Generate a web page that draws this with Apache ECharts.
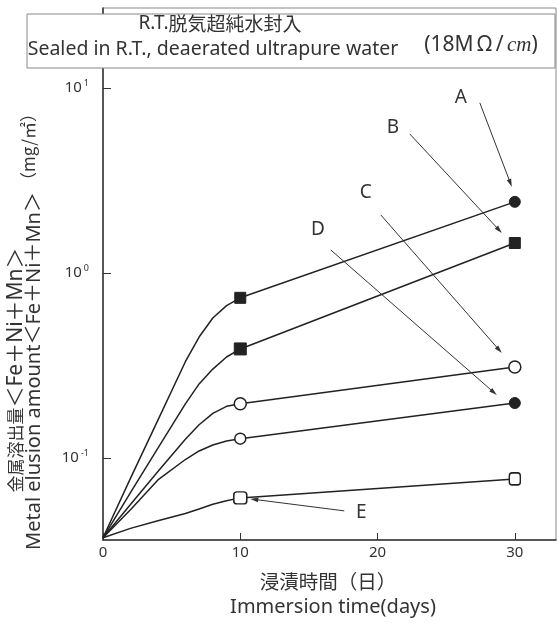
<!DOCTYPE html>
<html><head><meta charset="utf-8">
<script src="https://cdn.jsdelivr.net/npm/echarts@6/dist/echarts.min.js"></script>
<style>html,body{margin:0;padding:0;background:#fff}#c{width:558px;height:623px}</style>
</head><body><div id="c"></div>
<script>
// ---- data ----
const days    = [0, 2, 4, 6, 7, 8, 9, 10, 30];
const seriesA = [0.037, 0.0775, 0.160, 0.331, 0.450, 0.570, 0.665, 0.733, 2.42];
const seriesB = [0.037, 0.065, 0.113, 0.196, 0.251, 0.302, 0.351, 0.388, 1.45];
const seriesC = [0.037, 0.056, 0.0845, 0.126, 0.151, 0.174, 0.190, 0.196, 0.31];
const seriesD = [0.037, 0.0525, 0.076, 0.098, 0.109, 0.1175, 0.1235, 0.127, 0.198];
const seriesE = [0.037, 0.0416, 0.0457, 0.0501, 0.053, 0.0562, 0.0586, 0.0608, 0.077];
const seriesNames = ['A', 'B', 'C', 'D', 'E'];
const xTicks = [0, 10, 20, 30];
const yTicks = [0.1, 1, 10];

// ---- styling ----
const INK = '#222';
const LAT = "'Noto Sans', 'Noto Sans CJK JP', sans-serif";
const CJK = "'Noto Sans CJK JP', sans-serif";
const allSeries = [seriesA, seriesB, seriesC, seriesD, seriesE];
// marker look at the day-10 point and the day-30 point
const markerStyle = {
  A: [{s: 'rect', z: 11, f: true}, {s: 'circle', z: 11, f: true}],
  B: [{s: 'rect', z: 12, f: true}, {s: 'rect', z: 11, f: true}],
  C: [{s: 'circle', z: 12, f: false}, {s: 'circle', z: 12, f: false}],
  D: [{s: 'circle', z: 11, f: false}, {s: 'circle', z: 11, f: true}],
  E: [{s: 'roundRect', z: [13, 12], f: false}, {s: 'roundRect', z: [11, 12], f: false}]
};
const markIdx = [days.indexOf(10), days.indexOf(30)];

const series = seriesNames.map((name, k) => ({
  name, type: 'line', smooth: false,
  lineStyle: {color: INK, width: 1.5, join: 'round'},
  showSymbol: true, z: 3,
  data: days.map((d, i) => {
    const m = markIdx.indexOf(i);
    if (m < 0) return {value: [d, allSeries[k][i]], symbol: 'none'};
    const st = markerStyle[name][m];
    return {value: [d, allSeries[k][i]], symbol: st.s, symbolSize: st.z,
      itemStyle: st.f ? {color: INK, borderColor: INK, borderWidth: 1}
                      : {color: '#fff', borderColor: INK, borderWidth: 1.5}};
  })
}));

const chart = echarts.init(document.getElementById('c'), null, {renderer: 'canvas'});
chart.setOption({
  animation: false,
  backgroundColor: '#fff',
  grid: {left: 103, right: 2, top: 8, bottom: 83, show: true, borderColor: '#888', borderWidth: 1},
  xAxis: {
    type: 'value', min: 0, max: 33, interval: 10,
    axisLine: {lineStyle: {color: '#333', width: 1.5}},
    axisTick: {inside: true, length: 7, lineStyle: {color: '#333'}, customValues: xTicks},
    axisLabel: {customValues: xTicks, color: '#333', fontFamily: LAT, fontSize: 15, margin: 5},
    splitLine: {show: false}
  },
  yAxis: {
    type: 'log', logBase: 10, min: 0.036, max: 27,
    axisLine: {show: true, lineStyle: {color: '#333', width: 1.5}},
    axisTick: {inside: true, length: 8, lineStyle: {color: '#333'}, customValues: yTicks},
    axisLabel: {
      customValues: yTicks, margin: 14, color: '#333', fontFamily: LAT,
      formatter: v => '{b|10}{s|' + Math.round(Math.log10(v)) + '}',
      rich: {b: {fontSize: 15, fontFamily: LAT, color: '#333'},
             s: {fontSize: 9, fontFamily: LAT, color: '#333', padding: [0, 0, 9, 2]}}
    },
    splitLine: {show: false}
  },
  series
});

// ---- annotations (labels + arrows), anchored to the data markers ----
const notes = [
  {n: 'A', idx: 8, lab: [-54, -104], from: [-35, -99], to: [-3, -15]},
  {n: 'B', idx: 8, lab: [-122, -115], from: [-105, -109], to: [-13, -10]},
  {n: 'C', idx: 8, lab: [-149, -174], from: [-134, -152], to: [-13, -14]},
  {n: 'D', idx: 8, lab: [-197, -173], from: [-184, -153], to: [-18, -8]},
  {n: 'E', idx: 7, lab: [121, 15], from: [104, 13], to: [10, 1]}
];
const g = [];
notes.forEach(a => {
  const k = seriesNames.indexOf(a.n);
  const p = chart.convertToPixel({gridIndex: 0}, [days[a.idx], allSeries[k][a.idx]]);
  const x1 = p[0] + a.from[0], y1 = p[1] + a.from[1];
  const x2 = p[0] + a.to[0], y2 = p[1] + a.to[1];
  const L = Math.hypot(x2 - x1, y2 - y1), dx = (x2 - x1) / L, dy = (y2 - y1) / L;
  const hl = 8, hw = 2.3;
  g.push({type: 'line', shape: {x1, y1, x2: x2 - dx * 4, y2: y2 - dy * 4}, style: {stroke: '#333', lineWidth: 1}, z: 10});
  g.push({type: 'polygon', shape: {points: [[x2, y2],
    [x2 - dx * hl - dy * hw, y2 - dy * hl + dx * hw],
    [x2 - dx * hl + dy * hw, y2 - dy * hl - dx * hw]]}, style: {fill: '#333'}, z: 10});
  g.push({type: 'text', x: p[0] + a.lab[0], y: p[1] + a.lab[1], z: 10,
    style: {text: a.n, font: '19px ' + LAT, fill: '#333', align: 'center', verticalAlign: 'middle'}});
});

// title box
g.push({type: 'rect', shape: {x: 27, y: 14, width: 528, height: 54}, style: {fill: '#fff', stroke: '#888', lineWidth: 1}, z: 20});
g.push({type: 'text', x: 220, y: 24, z: 21, style: {
  text: '{r|R.T.}{c|脱気超純水封入}', align: 'center', verticalAlign: 'middle',
  rich: {r: {fontSize: 19, fontFamily: LAT, fill: '#333'}, c: {fontSize: 19, fontFamily: CJK, fill: '#333'}}}});
g.push({type: 'text', x: 213, y: 49, z: 21, style: {text: 'Sealed in R.T., deaerated ultrapure water', font: '19.5px ' + LAT, fill: '#333', align: 'center', verticalAlign: 'middle'}});
g.push({type: 'text', x: 481, y: 45, z: 21, style: {
  text: '{r|(18M\u2009Ω}{p|\u2009/\u2009}{i|cm}{r|)}', align: 'center', verticalAlign: 'middle',
  rich: {r: {fontSize: 21, fontFamily: LAT, fill: '#333'},
         p: {fontSize: 21, fontFamily: LAT, fill: '#333'},
         i: {fontSize: 21, fontFamily: "'Liberation Serif', serif", fontStyle: 'italic', fill: '#333'}}
}});

// y axis names
g.push({type: 'text', x: 16, y: 370, rotation: Math.PI / 2, z: 21, style: {
  text: '{c|金属溶出量}{r|＜Fe＋Ni＋Mn＞}', align: 'center', verticalAlign: 'middle',
  rich: {c: {fontSize: 17, fontFamily: CJK, fill: '#333'}, r: {fontSize: 21, fontFamily: LAT, fill: '#333'}}}});
g.push({type: 'text', x: 34, y: 371, rotation: Math.PI / 2, z: 21, style: {text: 'Metal elusion amount＜Fe＋Ni＋Mn＞', font: '20px ' + LAT, fill: '#333', align: 'center', verticalAlign: 'middle'}});
g.push({type: 'text', x: 29, y: 147, rotation: Math.PI / 2, z: 21, style: {text: '（mg/㎡）', font: '17px ' + CJK, fill: '#333', align: 'center', verticalAlign: 'middle'}});

// x axis names
g.push({type: 'text', x: 328, y: 582, z: 21, style: {text: '浸漬時間（日）', font: '19.5px ' + CJK, fill: '#333', align: 'center', verticalAlign: 'middle'}});
g.push({type: 'text', x: 333, y: 607, z: 21, style: {text: 'Immersion time(days)', font: '20px ' + LAT, fill: '#333', align: 'center', verticalAlign: 'middle'}});

chart.setOption({graphic: g});
</script></body></html>
